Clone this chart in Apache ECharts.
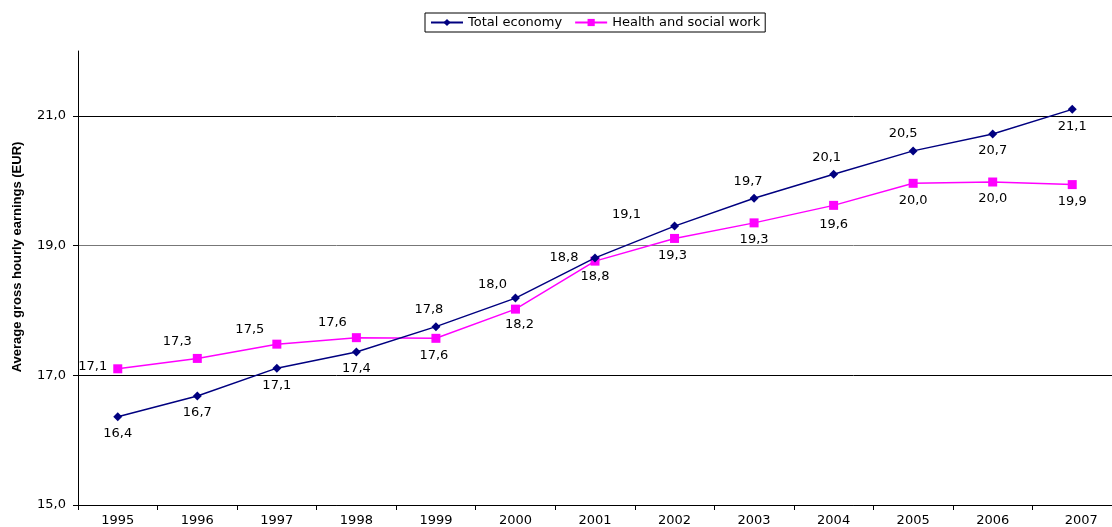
<!DOCTYPE html>
<html>
<head>
<meta charset="utf-8">
<script src="https://cdn.jsdelivr.net/npm/echarts@6/dist/echarts.min.js"></script>
<style>html,body{margin:0;padding:0;background:#fff}#c{width:1112px;height:527px}</style>
</head>
<body>
<div id="c"></div>
<script>
const years = ['1995','1996','1997','1998','1999','2000','2001','2002','2003','2004','2005','2006','2007'];
const totalEconomy = [16.36,16.68,17.11,17.36,17.75,18.19,18.81,19.30,19.73,20.10,20.46,20.72,21.10];
const healthSocial = [17.10,17.26,17.48,17.58,17.57,18.02,18.76,19.11,19.35,19.62,19.96,19.98,19.94];
const totalLabels = ['16,4','16,7','17,1','17,4','17,8','18,0','18,8','19,1','19,7','20,1','20,5','20,7','21,1'];
const healthLabels = ['17,1','17,3','17,5','17,6','17,6','18,2','18,8','19,3','19,3','19,6','20,0','20,0','19,9'];
const yTicks = [15, 17, 19, 21];

// label placement (layout only)
const totalPlace = [
  ['bottom',[0,0]],['bottom',[0,0]],['bottom',[0,0]],['bottom',[0,0]],
  ['top',[-7,0]],['top',[-23,4]],['left',[-6,0]],['top',[-48,6]],
  ['top',[-6,0]],['top',[-7,0]],['top',[-10,0]],['bottom',[0,0]],['bottom',[0,0]]
];
const healthPlace = [
  ['left',[0,-2]],['top',[-20,0]],['top',[-27,2]],['top',[-24,2]],
  ['bottom',[-2,0]],['bottom',[4,-2]],['bottom',[0,-2]],['bottom',[-2,0]],
  ['bottom',[0,0]],['bottom',[0,2]],['bottom',[0,0]],['bottom',[0,0]],['bottom',[0,0]]
];

function build(values, labels, place) {
  return values.map((v, i) => ({
    value: v,
    label: { show: true, formatter: labels[i], position: place[i][0], offset: place[i][1], distance: 6 }
  }));
}

const fontFam = '"DejaVu Sans", Arial, sans-serif';
const chart = echarts.init(document.getElementById('c'), null, {renderer: 'canvas'});
chart.setOption({
  animation: false,
  backgroundColor: '#fff',
  textStyle: { fontFamily: fontFam },
  grid: { left: 78, top: 51, bottom: 22, right: -11 },
  legend: {
    left: 425, top: 13,
    padding: [3, 5, 3, 5],
    itemWidth: 32, itemHeight: 9, itemGap: 12,
    borderColor: '#000', borderWidth: 1, borderRadius: 0,
    textStyle: { fontSize: 13, color: '#000', fontFamily: fontFam, padding: [0,0,0,0] },
    data: ['Total economy', 'Health and social work']
  },
  graphic: [{
    type: 'text', x: 17, y: 257, rotation: Math.PI / 2,
    style: { text: 'Average gross hourly earnings (EUR)', font: 'bold 13px Arial, "Liberation Sans", sans-serif', fill: '#000', align: 'center', verticalAlign: 'middle' }
  }],
  xAxis: {
    type: 'category', data: years, boundaryGap: true,
    axisLine: { lineStyle: { color: '#000', width: 1 } },
    axisTick: { show: true, interval: 0, length: 5, alignWithLabel: false, lineStyle: { color: '#000' } },
    axisLabel: {
      interval: 0, hideOverlap: false,
      color: '#000', fontSize: 13, margin: 9, fontFamily: fontFam,
      formatter: (v, i) => i === years.length - 1 ? '{last|' + v + '}' : v,
      rich: { last: { color: '#000', fontSize: 13, fontFamily: fontFam, padding: [0, 0, 0, 18] } }
    },
    splitLine: { show: false }
  },
  yAxis: {
    type: 'value', min: 15, max: 22, interval: 2,
    axisLine: { show: true, lineStyle: { color: '#000', width: 1 } },
    axisTick: { show: true, length: 5, lineStyle: { color: '#000' } },
    axisLabel: {
      color: '#000', fontSize: 13, margin: 12, fontFamily: fontFam, showMaxLabel: false,
      formatter: v => yTicks.includes(v) ? v.toFixed(1).replace('.', ',') : ''
    },
    splitLine: { show: true, lineStyle: { color: ['#000', '#000', '#777', '#000', 'rgba(0,0,0,0)'], width: 1 } }
  },
  series: [
    {
      name: 'Total economy', type: 'line',
      data: build(totalEconomy, totalLabels, totalPlace),
      symbol: 'diamond', symbolSize: 9,
      itemStyle: { color: '#000080' },
      lineStyle: { color: '#000080', width: 1.5 },
      label: { color: '#000', fontSize: 13, fontFamily: fontFam },
      z: 3
    },
    {
      name: 'Health and social work', type: 'line',
      data: build(healthSocial, healthLabels, healthPlace),
      symbol: 'rect', symbolSize: 9,
      itemStyle: { color: '#FF00FF' },
      lineStyle: { color: '#FF00FF', width: 1.5 },
      label: { color: '#000', fontSize: 13, fontFamily: fontFam },
      z: 2
    }
  ]
});
</script>
</body>
</html>
